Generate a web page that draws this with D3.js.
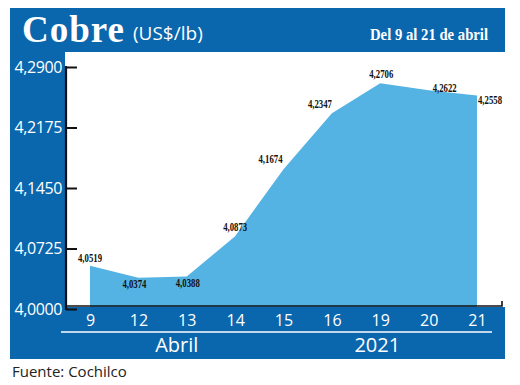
<!DOCTYPE html>
<html><head><meta charset="utf-8">
<script src="https://cdn.jsdelivr.net/npm/d3@7/dist/d3.min.js"></script>
<style>html,body{margin:0;padding:0;background:#fff}svg{display:block}</style>
</head><body><svg id="c" width="520" height="385"></svg>
<script>
const days = ["9","12","13","14","15","16","19","20","21"];
const prices = [4.0519,4.0374,4.0388,4.0873,4.1674,4.2347,4.2706,4.2622,4.2558];
const yTicks = [4.0000,4.0725,4.1450,4.2175,4.2900];
const groupLabels = ["Abril","2021"];
// label placement (layout): dx, dy from point
const labelOffsets = [[0,-4],[-4,10],[1,10],[0,-5],[-13,-6],[-12,-5],[1,-5],[16,2],[13,8]];

const svg = d3.select("#c");
const BLUE = "#0a66ad", AREA = "#55b3e3";
const fmt = v => d3.format(".4f")(v).replace(".", ",");

svg.append("rect").attr("x",10).attr("y",8).attr("width",495).attr("height",351).attr("fill",BLUE);
svg.append("rect").attr("x",65).attr("y",52).attr("width",440).attr("height",255).attr("fill","#fff");

const x = d3.scalePoint().domain(days).range([90,477]);
const y = d3.scaleLinear().domain([4.0,4.29]).range([309,67]);

const data = days.map((d,i)=>({d, v:prices[i]}));
svg.append("path").datum(data)
  .attr("d", d3.area().x(p=>x(p.d)).y0(y(4.0)).y1(p=>y(p.v)))
  .attr("fill", AREA);

// x band over bottom
svg.append("rect").attr("x",10).attr("y",307).attr("width",495).attr("height",52).attr("fill",BLUE);

// baseline
svg.append("path").attr("d","M66,306H502V301").attr("fill","none").attr("stroke","#111").attr("stroke-width",1.6);

// y axis
const ya = svg.append("g").attr("transform","translate(66,0)")
  .call(d3.axisLeft(y).tickValues(yTicks).tickFormat(fmt).tickSize(-11).tickSizeOuter(0).tickPadding(4));
ya.select(".domain").remove();
ya.selectAll(".tick line").attr("stroke","#111").attr("stroke-width",2);
ya.selectAll(".tick text").attr("fill","#fff").attr("font-family","Open Sans").attr("font-size",16).attr("letter-spacing",-0.4).attr("dy","0.33em");
svg.append("line").attr("x1",66).attr("x2",66).attr("y1",y(4.29)-1).attr("y2",y(4.0)+1).attr("stroke","#111").attr("stroke-width",2.2);

// x axis
const xa = svg.append("g").attr("transform","translate(0,307)")
  .call(d3.axisBottom(x).tickSize(0).tickPadding(8));
xa.select(".domain").remove();
xa.selectAll(".tick text").attr("fill","#fff").attr("font-family","Open Sans").attr("font-size",16);

svg.append("line").attr("x1",61).attr("x2",492).attr("y1",332).attr("y2",332).attr("stroke","#fff").attr("stroke-width",1.5);
svg.selectAll("text.grp").data(groupLabels).enter().append("text").attr("class","grp")
  .attr("x",(d,i)=> i===0 ? (x("12")+x("14"))/2 - 10 : x("19")-3).attr("y",352)
  .attr("text-anchor","middle").attr("fill","#fff").attr("font-family","Open Sans").attr("font-size",20).text(d=>d);

// data labels
svg.selectAll("text.lbl").data(data).enter().append("text").attr("class","lbl")
  .attr("x",(p,i)=>x(p.d)+labelOffsets[i][0]).attr("y",(p,i)=>y(p.v)+labelOffsets[i][1])
  .attr("text-anchor","middle").attr("font-family","Liberation Serif").attr("font-weight","bold")
  .attr("font-size",13).attr("fill","#111")
  .attr("textLength",24).attr("lengthAdjust","spacingAndGlyphs").text(p=>fmt(p.v));

// title
svg.append("text").attr("x",22).attr("y",42).attr("fill","#fff").attr("font-family","Liberation Serif")
  .attr("font-weight","bold").attr("font-size",37).attr("letter-spacing",1).text("Cobre");
svg.append("text").attr("x",133).attr("y",40).attr("fill","#fff").attr("font-family","Open Sans")
  .attr("font-size",19).text("(US$/lb)");
svg.append("text").attr("x",488).attr("y",40).attr("text-anchor","end").attr("fill","#fff").attr("font-family","Liberation Serif")
  .attr("font-weight","bold").attr("font-size",17).attr("textLength",118).attr("lengthAdjust","spacingAndGlyphs").text("Del 9 al 21 de abril");

svg.append("text").attr("x",12).attr("y",377).attr("fill","#222").attr("font-family","Open Sans")
  .attr("font-size",15).text("Fuente: Cochilco");
</script></body></html>
